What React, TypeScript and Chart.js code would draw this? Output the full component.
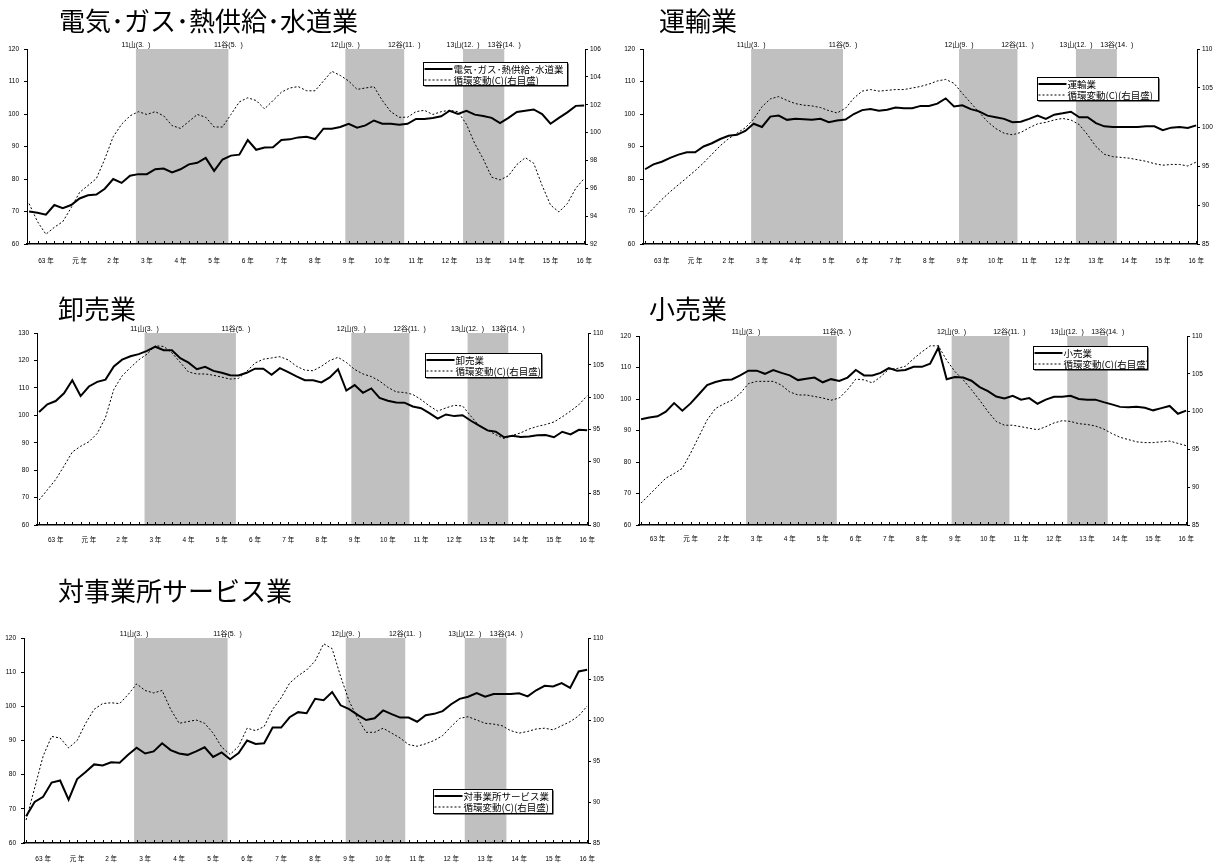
import { useEffect, useRef } from "react";
import { Chart, registerables } from "chart.js";

Chart.register(...registerables);

const LATIN = '"Liberation Sans", "Noto Sans CJK JP", sans-serif';
const GOTHIC = '"Noto Sans CJK JP", sans-serif';
const DOT = "･";

// Year captions on the time axis, one per four quarters
const yearLabels = [
  "63 年", "元 年", "2 年", "3 年", "4 年", "5 年", "6 年", "7 年", "8 年",
  "9 年", "10 年", "11 年", "12 年", "13 年", "14 年", "15 年", "16 年",
];
const firstLabelQuarter = 2;

// Reference turning points (quarter positions) and their captions
const cyclePeakLabels = ["11山(3.  )", "12山(9.  )", "13山(12.  )"];
const cycleTroughLabels = ["11谷(5.  )", "12谷(11.  )", "13谷(14.  )"];
const cyclePeakPos = [12.7, 37.6, 51.6];
const cycleTroughPos = [23.7, 44.6, 56.5];

const cycleLegend = "循環変動(C)(右目盛)";

// 電気・ガス・熱供給・水道業
const utilitiesIndex = [
  70, 69.6, 69, 72, 71, 72, 74, 75, 75.2, 77,
  80, 78.8, 81, 81.5, 81.5, 83, 83.2, 82, 83, 84.5,
  85, 86.5, 82.5, 86, 87.2, 87.5, 92, 89, 89.7, 89.8,
  92, 92.2, 92.8, 93, 92.3, 95.5, 95.5, 96, 97, 95.8,
  96.5, 98, 97, 97, 96.7, 97, 98.5, 98.5, 98.8, 99.3,
  101, 100, 101, 99.8, 99.4, 98.8, 97.2, 98.8, 100.6, 101,
  101.4, 100, 97, 98.8, 100.5, 102.5, 102.6,
];
const utilitiesCycle = [
  94.9, 93.6, 92.7, 93.2, 93.6, 94.6, 95.7, 96.2, 96.7, 98.1,
  99.7, 100.6, 101.2, 101.5, 101.3, 101.5, 101.2, 100.5, 100.3, 100.8,
  101.3, 101.1, 100.4, 100.4, 101.3, 102.2, 102.5, 102.3, 101.7, 102.3,
  102.9, 103.2, 103.3, 103.0, 103.0, 103.7, 104.4, 104.1, 103.7, 103.1,
  103.2, 103.3, 102.3, 101.5, 101.1, 101.1, 101.5, 101.6, 101.3, 101.5,
  101.6, 101.5, 100.6, 99.2, 98.1, 96.8, 96.6, 96.9, 97.7, 98.2,
  97.8, 96.2, 94.8, 94.3, 94.9, 96.0, 96.7,
];

// 運輸業
const transportIndex = [
  83, 84.5, 85.3, 86.5, 87.5, 88.2, 88.2, 90, 91, 92.3,
  93.3, 93.6, 94.8, 97, 96, 99.2, 99.5, 98.2, 98.5, 98.4,
  98.2, 98.5, 97.5, 98, 98.3, 100, 101.2, 101.5, 101, 101.3,
  102, 101.8, 101.8, 102.5, 102.5, 103.2, 104.8, 102.3, 102.7, 101.5,
  100.8, 99.5, 99, 98.5, 97.5, 97.6, 98.5, 99.5, 98.5, 99.8,
  100.2, 100.7, 99, 99, 97.2, 96.2, 96, 96, 96, 96,
  96.2, 96.2, 95, 95.8, 96, 95.7, 96.5,
];
const transportCycle = [
  88.5, 89.6, 90.7, 91.7, 92.6, 93.5, 94.4, 95.4, 96.5, 97.6,
  98.5, 99.2, 99.9, 101.0, 102.6, 103.6, 103.9, 103.4, 103.0, 102.8,
  102.7, 102.5, 102.1, 101.8, 102.4, 103.7, 104.6, 104.8, 104.6, 104.7,
  104.8, 104.8, 105.0, 105.2, 105.5, 105.9, 106.1, 105.6, 104.3, 103.1,
  101.9, 100.7, 99.8, 99.2, 99.0, 99.3, 99.9, 100.4, 100.6, 100.9,
  101.1, 100.9, 100.3, 99.0, 97.5, 96.5, 96.2, 96.1, 96.0, 95.8,
  95.6, 95.3, 95.1, 95.2, 95.2, 95.0, 95.5,
];

// 卸売業
const wholesaleIndex = [
  101.2, 104, 105.2, 108, 112.8, 107, 110.5, 112.2, 113, 117.8,
  120.3, 121.5, 122.3, 123.5, 125, 123.7, 123.7, 120.8, 119.2, 116.8,
  117.7, 116.2, 115.5, 114.6, 114.5, 115.5, 117, 117, 114.8, 117.2,
  115.7, 114.2, 112.8, 112.8, 112, 113.8, 116.8, 109, 111, 108.2,
  109.8, 106.3, 105.3, 104.7, 104.6, 103.2, 102.6, 100.8, 98.8, 100.3,
  99.7, 100, 98, 96.2, 94.5, 94, 92, 92.5, 92.1, 92.3,
  92.7, 92.8, 92, 94, 93, 94.7, 94.5,
];
const wholesaleCycle = [
  83.9, 85.5, 87.1, 89.2, 91.4, 92.3, 93.0, 94.3, 96.8, 101.2,
  103.3, 104.6, 105.8, 106.7, 108.0, 107.9, 106.9, 105.4, 103.9, 103.6,
  103.6, 103.4, 103.1, 102.8, 102.9, 104.0, 105.3, 105.9, 106.1, 106.3,
  105.8, 104.8, 104.2, 104.1, 104.8, 105.7, 106.2, 105.4, 104.3, 103.6,
  103.2, 102.5, 101.5, 100.8, 100.7, 100.4, 99.6, 98.6, 97.8, 98.3,
  98.7, 98.6, 97.0, 95.5, 94.8, 94.1, 93.5, 94.0, 94.4, 95.0,
  95.4, 95.7, 96.1, 96.9, 97.8, 98.8, 100.2,
];

// 小売業
const retailIndex = [
  93.6, 94.1, 94.5, 96, 98.7, 96.3, 98.6, 101.5, 104.4, 105.4,
  106, 106.2, 107.5, 109, 109, 108, 109.2, 108.3, 107.5, 106,
  106.4, 106.8, 105.3, 106.3, 105.7, 106.8, 109.2, 107.5, 107.5, 108.3,
  109.8, 109, 109.2, 110.2, 110.2, 111.2, 116.3, 106.3, 107, 106.8,
  105.8, 103.8, 102.5, 100.8, 100.2, 101, 99.8, 100.3, 98.5, 99.8,
  100.7, 100.7, 101, 100, 99.8, 99.8, 99, 98.3, 97.5, 97.4,
  97.5, 97.2, 96.4, 97.1, 97.8, 95.3, 96.3,
];
const retailCycle = [
  87.9, 89.0, 90.1, 91.2, 91.8, 92.5, 94.5, 96.7, 98.9, 100.4,
  101.0, 101.5, 102.4, 103.7, 104.0, 104.0, 104.0, 103.5, 102.6, 102.2,
  102.2, 102.0, 101.8, 101.5, 101.8, 102.9, 104.3, 104.2, 103.8, 104.6,
  105.6, 105.7, 106.0, 107.0, 107.9, 108.7, 108.7, 106.8, 105.3, 104.2,
  102.9, 101.5, 100.0, 98.7, 98.2, 98.2, 98.0, 97.8, 97.6, 98.0,
  98.5, 98.8, 98.7, 98.4, 98.3, 98.1, 97.7, 97.1, 96.6, 96.3,
  96.0, 95.9, 95.9, 96.0, 96.1, 95.8, 95.5,
];

// 対事業所サービス業
const businessIndex = [
  67.8, 72, 73.5, 77.7, 78.3, 72.7, 78.7, 80.8, 83, 82.7,
  83.6, 83.5, 85.8, 87.9, 86.2, 86.8, 89.2, 87.2, 86.2, 85.8,
  86.8, 88, 85.2, 86.5, 84.5, 86.3, 90, 89, 89.2, 93.8,
  93.8, 96.8, 98.3, 98, 102.2, 101.8, 104.2, 100.3, 99.2, 97.5,
  96, 96.5, 98.8, 97.7, 96.7, 96.7, 95.5, 97.4, 97.8, 98.6,
  100.6, 102.2, 102.8, 103.9, 102.8, 103.6, 103.6, 103.6, 103.8, 102.9,
  104.7, 106, 105.8, 106.8, 105.4, 110.2, 110.7,
];
const businessCycle = [
  87.8, 91.7, 95.6, 98.0, 97.8, 96.6, 97.5, 99.6, 101.3, 102.0,
  102.1, 102.0, 103.1, 104.4, 103.6, 103.3, 103.6, 101.3, 99.6, 99.8,
  100.0, 99.6, 98.4, 96.7, 95.8, 96.8, 99.0, 98.7, 99.2, 101.3,
  102.7, 104.5, 105.4, 106.1, 107.2, 109.3, 108.7, 105.3, 102.3, 100.2,
  98.5, 98.5, 99.0, 98.4, 97.8, 97.0, 96.8, 97.1, 97.5, 98.1,
  99.2, 100.2, 100.4, 100.0, 99.6, 99.5, 99.3, 98.7, 98.4, 98.6,
  98.9, 99.0, 98.8, 99.3, 99.8, 100.5, 101.7,
];

type Rect = { x: number; y: number; w: number; h: number };
type Area = { l: number; t: number; r: number; b: number };

interface PanelSpec {
  key: string;
  title: string;
  titleLeft: number;
  titleTop: number;
  seriesName: string;
  index: number[];
  cycle: number[];
  leftAxis: [number, number, number];
  rightAxis: [number, number, number];
  canvas: Rect;
  area: Area;
  labelPad: number;
  legendBox: Rect;
}

const panels: PanelSpec[] = [
  {
    key: "utilities",
    title: "電気･ガス･熱供給･水道業",
    titleLeft: 59,
    titleTop: 7,
    seriesName: "電気･ガス･熱供給･水道業",
    index: utilitiesIndex,
    cycle: utilitiesCycle,
    leftAxis: [60, 120, 10],
    rightAxis: [92, 106, 2],
    canvas: { x: 0, y: 30, w: 610, h: 245 },
    area: { l: 27, t: 49, r: 585, b: 244 },
    labelPad: 13,
    legendBox: { x: 423, y: 62, w: 144, h: 23 },
  },
  {
    key: "transport",
    title: "運輸業",
    titleLeft: 659,
    titleTop: 7,
    seriesName: "運輸業",
    index: transportIndex,
    cycle: transportCycle,
    leftAxis: [60, 120, 10],
    rightAxis: [85, 110, 5],
    canvas: { x: 610, y: 30, w: 610, h: 245 },
    area: { l: 643, t: 49, r: 1197, b: 244 },
    labelPad: 13,
    legendBox: { x: 1037, y: 77, w: 121, h: 23 },
  },
  {
    key: "wholesale",
    title: "卸売業",
    titleLeft: 58,
    titleTop: 295,
    seriesName: "卸売業",
    index: wholesaleIndex,
    cycle: wholesaleCycle,
    leftAxis: [60, 130, 10],
    rightAxis: [80, 110, 5],
    canvas: { x: 0, y: 305, w: 610, h: 255 },
    area: { l: 37, t: 333, r: 588, b: 525 },
    labelPad: 11,
    legendBox: { x: 425, y: 353, w: 116, h: 24 },
  },
  {
    key: "retail",
    title: "小売業",
    titleLeft: 649,
    titleTop: 295,
    seriesName: "小売業",
    index: retailIndex,
    cycle: retailCycle,
    leftAxis: [60, 120, 10],
    rightAxis: [85, 110, 5],
    canvas: { x: 610, y: 305, w: 610, h: 255 },
    area: { l: 639, t: 336, r: 1187, b: 525 },
    labelPad: 10,
    legendBox: { x: 1033, y: 346, w: 114, h: 23 },
  },
  {
    key: "business",
    title: "対事業所サービス業",
    titleLeft: 58,
    titleTop: 577,
    seriesName: "対事業所サービス業",
    index: businessIndex,
    cycle: businessCycle,
    leftAxis: [60, 120, 10],
    rightAxis: [85, 110, 5],
    canvas: { x: 0, y: 600, w: 610, h: 263 },
    area: { l: 24, t: 638, r: 588, b: 843 },
    labelPad: 12,
    legendBox: { x: 433, y: 789, w: 119, h: 24 },
  },
];

// Writes Japanese text with the half-width middle dot given a narrow advance
function fillJapanese(ctx: CanvasRenderingContext2D, text: string, x: number, y: number, dotAdvance: number) {
  const parts = text.split(DOT);
  let cx = x;
  parts.forEach((part, k) => {
    ctx.textAlign = "left";
    ctx.fillText(part, cx, y);
    cx += ctx.measureText(part).width;
    if (k < parts.length - 1) {
      ctx.textAlign = "center";
      ctx.fillText(DOT, cx + dotAdvance / 2, y);
      cx += dotAdvance;
    }
  });
  ctx.textAlign = "left";
}

// Shading, quarter ticks, turning-point captions and the boxed legend
function panelDecorations(spec: PanelSpec) {
  return {
    id: "cyclePanel",
    beforeDatasetsDraw(chart: any) {
      const { ctx, chartArea, scales } = chart;
      const xs = scales.x;
      ctx.save();
      ctx.fillStyle = "#c0c0c0";
      cyclePeakPos.forEach((p, k) => {
        const x0 = xs.getPixelForValue(p);
        const x1 = xs.getPixelForValue(cycleTroughPos[k]);
        ctx.fillRect(x0, chartArea.top, x1 - x0, chartArea.bottom - chartArea.top - 1);
      });
      ctx.restore();
    },
    afterDatasetsDraw(chart: any) {
      const { ctx, chartArea, scales } = chart;
      const xs = scales.x;
      ctx.save();

      // quarter tick marks on the time axis
      ctx.strokeStyle = "#000";
      ctx.lineWidth = 1;
      ctx.beginPath();
      for (let i = 0; i < spec.index.length; i++) {
        const x = Math.round(xs.getPixelForValue(i)) + 0.5;
        ctx.moveTo(x, chartArea.bottom);
        ctx.lineTo(x, chartArea.bottom - 3);
      }
      ctx.stroke();

      // turning-point captions above the plot
      ctx.fillStyle = "#000";
      ctx.font = `7px ${LATIN}`;
      ctx.textAlign = "center";
      ctx.textBaseline = "middle";
      cyclePeakPos.forEach((p, k) => {
        ctx.fillText(cyclePeakLabels[k], xs.getPixelForValue(p), chartArea.top - 4);
        ctx.fillText(cycleTroughLabels[k], xs.getPixelForValue(cycleTroughPos[k]), chartArea.top - 4);
      });

      // boxed legend
      const lb = spec.legendBox;
      const sample = 28;
      const bx = Math.round(lb.x - spec.canvas.x) + 0.5;
      const by = Math.round(lb.y - spec.canvas.y) + 0.5;
      ctx.fillStyle = "#000";
      ctx.fillRect(bx + 1, by + 1, lb.w, lb.h);
      ctx.fillStyle = "#fff";
      ctx.fillRect(bx, by, lb.w, lb.h);
      ctx.strokeStyle = "#000";
      ctx.lineWidth = 1;
      ctx.strokeRect(bx, by, lb.w, lb.h);

      const row1 = by + 6.5;
      const row2 = by + 17.5;
      ctx.lineWidth = 2;
      ctx.beginPath();
      ctx.moveTo(bx + 1, row1);
      ctx.lineTo(bx + 1 + sample, row1);
      ctx.stroke();
      ctx.lineWidth = 1;
      ctx.setLineDash([2, 2]);
      ctx.beginPath();
      ctx.moveTo(bx + 1, row2);
      ctx.lineTo(bx + 1 + sample, row2);
      ctx.stroke();
      ctx.setLineDash([]);

      ctx.fillStyle = "#000";
      ctx.font = `9.5px ${GOTHIC}`;
      ctx.textBaseline = "middle";
      fillJapanese(ctx, spec.seriesName, bx + sample + 2, row1, 5);
      fillJapanese(ctx, cycleLegend, bx + sample + 2, row2, 5);
      ctx.restore();
    },
  };
}

function buildChart(canvas: HTMLCanvasElement, spec: PanelSpec) {
  const local = {
    l: spec.area.l - spec.canvas.x,
    t: spec.area.t - spec.canvas.y,
    r: spec.area.r - spec.canvas.x,
    b: spec.area.b - spec.canvas.y,
  };
  const tickFont = { family: LATIN, size: 6.5 };
  return new Chart(canvas, {
    type: "line",
    data: {
      datasets: [
        {
          label: spec.seriesName,
          data: spec.index.map((v, i) => ({ x: i, y: v })),
          yAxisID: "y",
          borderColor: "#000",
          borderWidth: 2,
          pointRadius: 0,
          tension: 0,
        },
        {
          label: cycleLegend,
          data: spec.cycle.map((v, i) => ({ x: i, y: v })),
          yAxisID: "y1",
          borderColor: "#000",
          borderWidth: 1,
          borderDash: [2, 2],
          pointRadius: 0,
          tension: 0,
        },
      ],
    },
    options: {
      animation: false,
      responsive: false,
      devicePixelRatio: 1,
      events: [],
      layout: { padding: { top: local.t, left: 0, right: 0, bottom: 0 } },
      plugins: {
        legend: { display: false },
        tooltip: { enabled: false },
        title: { display: false },
      },
      scales: {
        x: {
          type: "linear",
          min: -0.25,
          max: spec.index.length - 0.9,
          grid: { display: false, drawTicks: false, tickLength: 0 },
          border: { display: true, color: "#000", width: 1.5 },
          afterBuildTicks: (axis: any) => {
            axis.ticks = yearLabels.map((_, k) => ({ value: firstLabelQuarter + 4 * k }));
          },
          afterFit: (axis: any) => {
            axis.height = spec.canvas.h - local.b;
          },
          ticks: {
            autoSkip: false,
            maxRotation: 0,
            minRotation: 0,
            padding: spec.labelPad,
            color: "#000",
            font: tickFont,
            callback: (value: any) => yearLabels[(Number(value) - firstLabelQuarter) / 4] ?? "",
          },
        },
        y: {
          position: "left",
          min: spec.leftAxis[0],
          max: spec.leftAxis[1],
          ticks: { stepSize: spec.leftAxis[2], color: "#000", font: tickFont, padding: 5 },
          grid: { drawOnChartArea: false, tickLength: 3, color: "#000", tickColor: "#000" },
          border: { display: true, color: "#000", width: 1 },
          afterFit: (axis: any) => {
            axis.width = local.l;
          },
        },
        y1: {
          position: "right",
          min: spec.rightAxis[0],
          max: spec.rightAxis[1],
          ticks: { stepSize: spec.rightAxis[2], color: "#000", font: tickFont, padding: 2 },
          grid: { drawOnChartArea: false, tickLength: 3, color: "#000", tickColor: "#000" },
          border: { display: true, color: "#000", width: 1 },
          afterFit: (axis: any) => {
            axis.width = spec.canvas.w - local.r;
          },
        },
      },
    } as any,
    plugins: [panelDecorations(spec)],
  });
}

function PanelTitle({ text, left, top }: { text: string; left: number; top: number }) {
  const parts = text.split(DOT);
  return (
    <div
      style={{
        position: "absolute",
        left,
        top,
        fontFamily: GOTHIC,
        fontSize: 26,
        lineHeight: "26px",
        color: "#000",
        whiteSpace: "nowrap",
      }}
    >
      {parts.map((part, k) => (
        <span key={k}>
          {part}
          {k < parts.length - 1 && (
            <span style={{ display: "inline-block", width: 13, textAlign: "center" }}>{DOT}</span>
          )}
        </span>
      ))}
    </div>
  );
}

function CyclePanel({ spec }: { spec: PanelSpec }) {
  const ref = useRef<HTMLCanvasElement>(null);
  useEffect(() => {
    const el = ref.current;
    if (!el) return;
    const chart = buildChart(el, spec);
    return () => chart.destroy();
  }, [spec]);
  return (
    <>
      <canvas
        ref={ref}
        width={spec.canvas.w}
        height={spec.canvas.h}
        style={{
          position: "absolute",
          left: spec.canvas.x,
          top: spec.canvas.y,
          width: spec.canvas.w,
          height: spec.canvas.h,
        }}
      />
      <PanelTitle text={spec.title} left={spec.titleLeft} top={spec.titleTop} />
    </>
  );
}

export default function App() {
  return (
    <div
      style={{
        position: "absolute",
        left: 0,
        top: 0,
        width: 1220,
        height: 863,
        background: "#fff",
        overflow: "hidden",
      }}
    >
      {panels.map((p) => (
        <CyclePanel key={p.key} spec={p} />
      ))}
    </div>
  );
}
